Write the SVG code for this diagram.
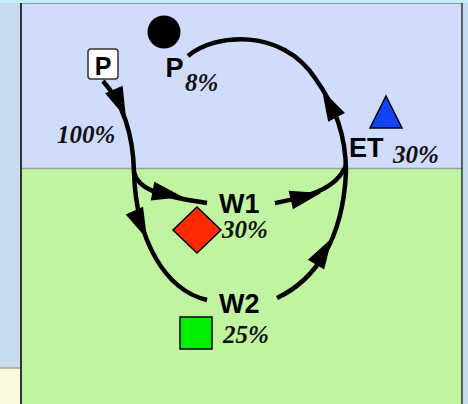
<svg xmlns="http://www.w3.org/2000/svg" width="468" height="404" viewBox="0 0 468 404">
  <style>
    .lbl { font-family: "Liberation Sans", Arial, sans-serif; font-weight: bold; fill: #000; }
    .pct { font-family: "Liberation Serif", "Times New Roman", serif; font-style: italic; font-weight: bold; font-size: 25px; fill: #111; }
    .flow { fill: none; stroke: #000; stroke-width: 4.5; stroke-linecap: butt; }
    .head { fill: #000; }
  </style>
  <defs>
    <!-- arrowhead, tip at origin, pointing along +x -->
    <path id="arrowhead" d="M0,0 L-31,-9.5 L-31,9.5 Z"/>
  </defs>

  <!-- page backdrop -->
  <rect x="0" y="0" width="468" height="404" fill="#c8dcf0"/>
  <rect x="0" y="368" width="20" height="36" fill="#f8f8dc"/>
  <line x1="0" y1="368" x2="20" y2="368" stroke="#a8a890" stroke-width="1.5"/>
  <rect x="0" y="0" width="468" height="3" fill="#c4eef6"/>

  <!-- panel: atmosphere above, land below -->
  <rect x="20" y="3" width="443" height="166" fill="#d0dcfc"/>
  <rect x="20" y="169" width="443" height="235" fill="#c0f4a0"/>
  <line x1="20" y1="168.5" x2="463" y2="168.5" stroke="#98a098" stroke-width="1.5"/>
  <line x1="20" y1="3.5" x2="463" y2="3.5" stroke="#8c9aa8" stroke-width="1"/>
  <line x1="21" y1="3" x2="21" y2="404" stroke="#2c3438" stroke-width="2"/>
  <line x1="462" y1="3" x2="462" y2="404" stroke="#2c3438" stroke-width="1.5"/>

  <!-- connectors -->
  <g id="connectors">
    <path class="flow" d="M103,81 C120,100 133,130 134,172"/>
    <path class="flow" d="M134,172 C138,190 160,196 207,203"/>
    <path class="flow" d="M134,172 C136,240 165,290 207,300"/>
    <path class="flow" d="M275,203 C300,198 336,192 346,165"/>
    <path class="flow" d="M277,298 C315,280 343,240 346,172"/>
    <path class="flow" d="M188,56 C215,33 282,28 315,78 C335,106 346,135 346,172"/>
    <use href="#arrowhead" class="head" transform="translate(126,118) rotate(67)"/>
    <use href="#arrowhead" class="head" transform="translate(183,197) rotate(11)"/>
    <use href="#arrowhead" class="head" transform="translate(147,239) rotate(66)"/>
    <use href="#arrowhead" class="head" transform="translate(321,193) rotate(-13)"/>
    <use href="#arrowhead" class="head" transform="translate(332,238) rotate(-59)"/>
    <use href="#arrowhead" class="head" transform="translate(322,90) rotate(-118)"/>
  </g>

  <!-- precipitation input -->
  <g id="node-p-input">
    <rect x="88" y="49" width="30" height="30" rx="3" fill="#fff" stroke="#333" stroke-width="1.5"/>
    <text class="lbl" x="103" y="75" font-size="25" text-anchor="middle">P</text>
    <text class="pct" x="57" y="143">100%</text>
  </g>

  <!-- precipitation returned -->
  <g id="node-p-return">
    <circle cx="164" cy="32" r="16.5" fill="#000"/>
    <text class="lbl" x="174.5" y="77" font-size="27" text-anchor="middle">P</text>
    <text class="pct" x="185" y="91">8%</text>
  </g>

  <!-- evapotranspiration -->
  <g id="node-et">
    <polygon points="386,96 402,128 370,128" fill="#1044f4" stroke="#000" stroke-width="1.5"/>
    <text class="lbl" x="349" y="157" font-size="27">ET</text>
    <text class="pct" x="393" y="163">30%</text>
  </g>

  <!-- store W1 -->
  <g id="node-w1">
    <polygon points="197,207 221,230 197,253 173,230" fill="#ff2a00" stroke="#000" stroke-width="1.5"/>
    <text class="lbl" x="219" y="213" font-size="27">W1</text>
    <text class="pct" x="222" y="238">30%</text>
  </g>

  <!-- store W2 -->
  <g id="node-w2">
    <rect x="180" y="317" width="32" height="32" fill="#00f000" stroke="#000" stroke-width="1.5"/>
    <text class="lbl" x="219" y="313" font-size="27">W2</text>
    <text class="pct" x="223" y="343">25%</text>
  </g>
</svg>
